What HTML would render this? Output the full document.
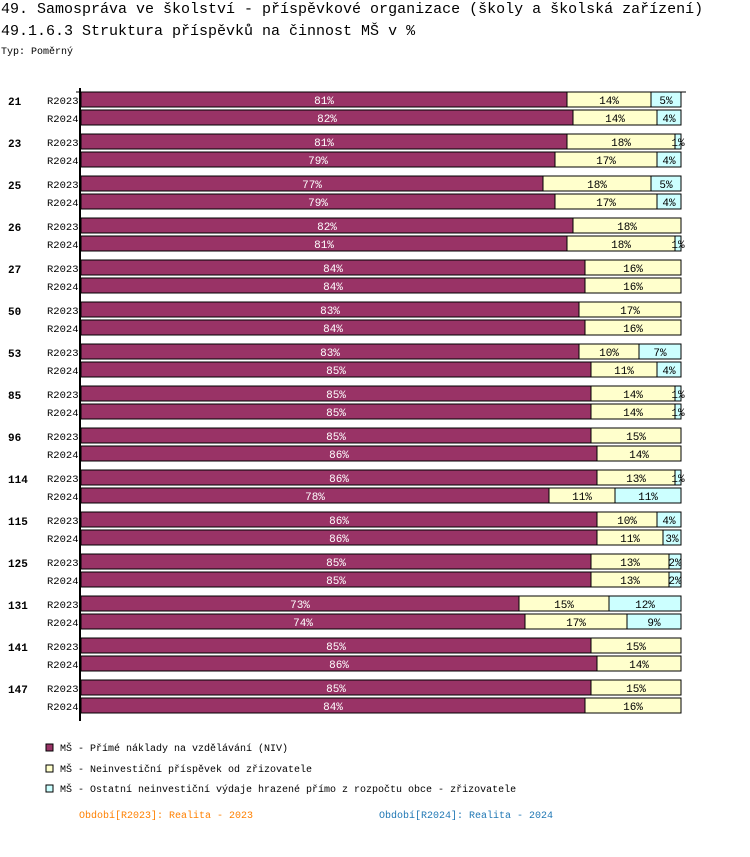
<!DOCTYPE html>
<html><head><meta charset="utf-8"><style>
body{margin:0;background:#fff;width:750px;height:852px;overflow:hidden;font-family:"Liberation Mono",monospace;}
svg text{font-family:"Liberation Mono",monospace;}
</style></head><body>
<svg id="chart" width="750" height="852" xmlns="http://www.w3.org/2000/svg">
<text x="1" y="13" font-size="15">49. Samospráva ve školství - příspěvkové organizace (školy a školská zařízení)</text>
<text x="1" y="35" font-size="15">49.1.6.3 Struktura příspěvků na činnost MŠ v %</text>
<text x="1" y="54" font-size="10">Typ: Poměrný</text>
<g id="bars"></g>
<line x1="80" y1="88" x2="80" y2="721" stroke="#000" stroke-width="2"/>
<line x1="76" y1="92" x2="686" y2="92" stroke="#000" stroke-width="1"/>
<g>
<rect x="46" y="744" width="7" height="7" fill="#993366" stroke="#000"/>
<text x="60" y="751" font-size="10">MŠ - Přímé náklady na vzdělávání (NIV)</text>
<rect x="46" y="765" width="7" height="7" fill="#ffffcc" stroke="#000"/>
<text x="60" y="772" font-size="10">MŠ - Neinvestiční příspěvek od zřizovatele</text>
<rect x="46" y="785" width="7" height="7" fill="#ccffff" stroke="#000"/>
<text x="60" y="792" font-size="10">MŠ - Ostatní neinvestiční výdaje hrazené přímo z rozpočtu obce - zřizovatele</text>
</g>
<text x="79" y="818" font-size="10" fill="#ff8000">Období[R2023]: Realita - 2023</text>
<text x="379" y="818" font-size="10" fill="#1f77b4">Období[R2024]: Realita - 2024</text>
</svg>
<script>
const groups = ["21","23","25","26","27","50","53","85","96","114","115","125","131","141","147"];
const periods = ["R2023","R2024"];
const niv = [81,82, 81,79, 77,79, 82,81, 84,84, 83,84, 83,85, 85,85, 85,86, 86,78, 86,86, 85,85, 73,74, 85,86, 85,84];
const prispevek = [14,14, 18,17, 18,17, 18,18, 16,16, 17,16, 10,11, 14,14, 15,14, 13,11, 10,11, 13,13, 15,17, 15,14, 15,16];
const ostatni = [5,4, 1,4, 5,4, 0,1, 0,0, 0,0, 7,4, 1,1, 0,0, 1,11, 4,3, 2,2, 12,9, 0,0, 0,0];

const NS = "http://www.w3.org/2000/svg";
const g = document.getElementById("bars");
const x0 = 81, W = 600;
function xs(v){ return v / 100 * W; }
function yRow(gi, pi){ return 92 + gi * 42 + pi * 18; }
const colors = ["#993366","#ffffcc","#ccffff"];
const series = [niv, prispevek, ostatni];
const sNames = ["niv","prispevek","ostatni"];
function mk(tag, attrs){ const e = document.createElementNS(NS, tag); for (const k in attrs) e.setAttribute(k, attrs[k]); return e; }
groups.forEach((grp, gi) => {
  const gl = mk("text", {x: 8, y: yRow(gi,0) + 13, "font-size": 11, "font-weight": "bold"});
  gl.textContent = grp;
  
  
  g.appendChild(gl);
  periods.forEach((p, pi) => {
    const idx = gi * 2 + pi;
    const y = yRow(gi, pi);
    const pl = mk("text", {x: 47, y: y + 12, "font-size": 10.5});
    pl.textContent = p;
    
    
    g.appendChild(pl);
    let cx = x0;
    series.forEach((s, si) => {
      const v = s[idx];
      if (!v) return;
      const w = xs(v);
      const r = mk("rect", {x: cx, y: y, width: w, height: 15, fill: colors[si], stroke: "#000", "stroke-width": 1});
      
      
      g.appendChild(r);
      const t = mk("text", {x: cx + w / 2, y: y + 12, "font-size": 11, "text-anchor": "middle", fill: si === 0 ? "#fff" : "#000"});
      t.textContent = v + "%";
      
      
      g.appendChild(t);
      cx += w;
    });
  });
});
</script>
</body></html>
